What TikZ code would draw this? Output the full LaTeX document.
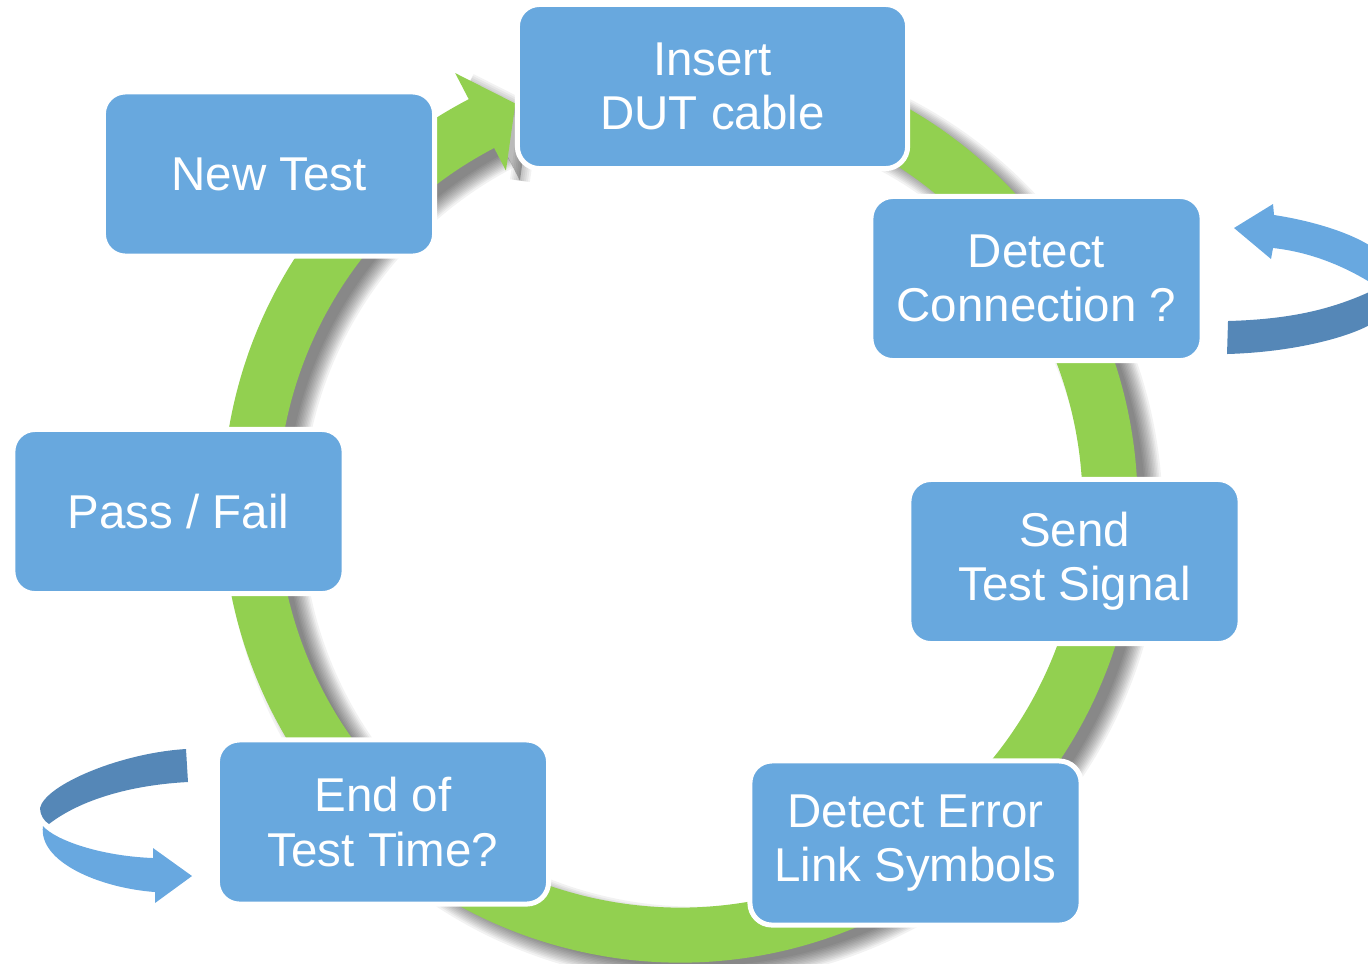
\documentclass[tikz,border=0pt]{standalone}
\usepackage{fontspec}
\setmainfont{Liberation Sans}
\usetikzlibrary{calc}
\definecolor{ringgreen}{RGB}{146,208,80}
\definecolor{boxblue}{RGB}{104,168,222}
\definecolor{banddark}{RGB}{85,135,183}
\definecolor{bandlight}{RGB}{104,168,224}
\begin{document}
\begin{tikzpicture}[x=0.01cm,y=-0.01cm,
  box/.style={rectangle, rounded corners=0.22cm, fill=boxblue, draw=white, line width=0.05cm,
    text=white, align=center, inner sep=0pt, minimum height=1.64cm, minimum width=3.31cm,
    font=\fontsize{13.5}{15.4}\selectfont},
  ring/.style={draw=ringgreen, line width=0.55cm},
  shade/.style={draw=black, opacity=0.05},
  shadefill/.style={fill=black, opacity=0.27}]
\useasboundingbox (0,0) rectangle (1368,963);
\coordinate (C) at (680,505);
\coordinate (Cs) at (694,515);

% ring shadow (soft, offset to lower right)
\foreach \w in {0.43,0.46,0.49,0.52,0.55,0.58,0.61,0.64,0.67,0.70,0.73,0.77}
  \draw[shade, line width=\w cm] (Cs) ++(-75:430) arc[start angle=-75, end angle=242.5, radius=430];
\fill[shadefill] ($(Cs)+(242.5:457.5)$) -- ($(Cs)+(242.5:487)$) -- ($(Cs)+(247.7:434)$) -- ($(Cs)+(242.5:377)$) -- ($(Cs)+(242.5:402.5)$) -- cycle;
\foreach \w in {0.04,0.08,0.12,0.16,0.20}
  \draw[shade, line width=\w cm, line join=round] ($(Cs)+(242.5:487)$) -- ($(Cs)+(247.7:434)$) -- ($(Cs)+(242.5:377)$);

% green ring with arrow head
\draw[ring] (C) ++(-75:430) arc[start angle=-75, end angle=243, radius=430];
\fill[ringgreen] ($(C)+(242.5:457.5)$) -- ($(C)+(242.5:487)$) -- ($(C)+(247.7:434)$) -- ($(C)+(242.5:377)$) -- ($(C)+(242.5:402.5)$) -- cycle;

% boxes
\node[box, minimum width=3.90cm] (insert) at (712.5,86.5) {Insert\\DUT cable};
\node[box] (newtest) at (269,174) {New Test};
\node[box] (detect) at (1036.5,278.5) {Detect\\Connection ?};
\node[box] (send) at (1074.5,561.5) {Send\\Test Signal};
\node[box] (error) at (915.5,843) {Detect Error\\Link Symbols};
\node[box] (eot) at (383,822) {End of\\Test Time?};
\node[box] (pass) at (178.5,511.5) {Pass / Fail};

% left U-turn arrow
\fill[banddark] (186,749) .. controls (120,753) and (45,785) .. (40,808)
  .. controls (40,815) and (44,821) .. (49,824)
  .. controls (80,800) and (130,785) .. (188,782) -- cycle;
\fill[bandlight] (43,826) .. controls (38,862) and (100,888) .. (155,892)
  -- (155,903) -- (192,876) -- (153,848) -- (153,858)
  .. controls (100,856) and (55,840) .. (43,826) -- cycle;

% right U-turn arrow
\begin{scope}
\clip (0,0) rectangle (1368,963);
\fill[banddark] (1227,354) .. controls (1300,352) and (1362,334) .. (1380,318)
  .. controls (1390,307) and (1388,294) .. (1378,288)
  .. controls (1340,306) and (1300,319) .. (1228,321) -- cycle;
\fill[bandlight] (1273,248) -- (1271,259) -- (1234,228) -- (1273,204) -- (1274,215)
  .. controls (1320,222) and (1368,238) .. (1385,258)
  .. controls (1393,268) and (1390,280) .. (1376,286)
  .. controls (1345,266) and (1310,252) .. (1273,248) -- cycle;
\end{scope}
\end{tikzpicture}
\end{document}
